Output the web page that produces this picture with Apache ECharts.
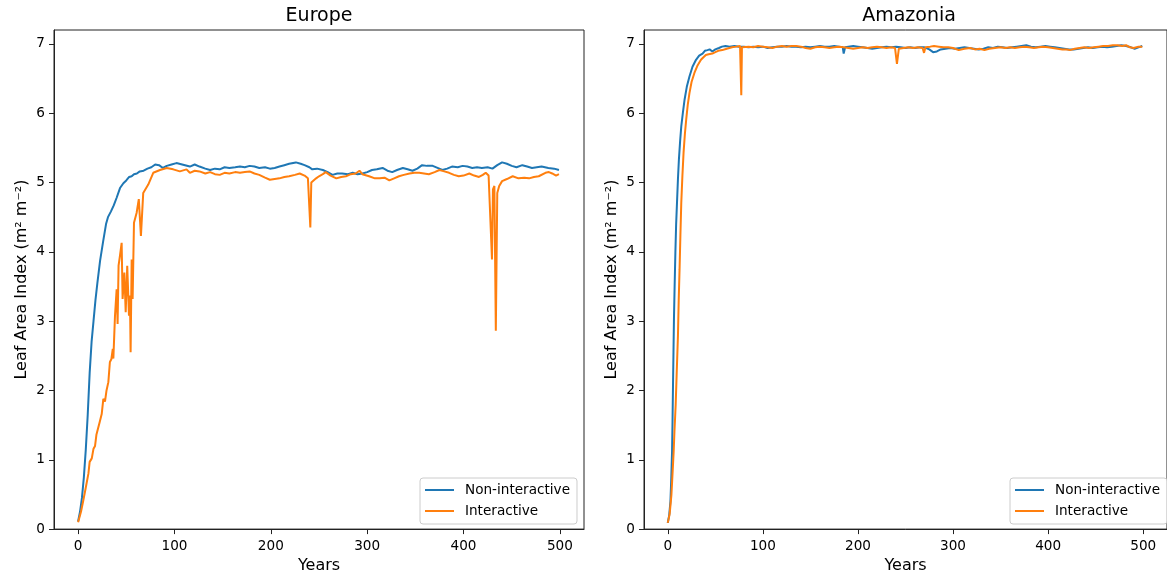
<!DOCTYPE html>
<html>
<head>
<meta charset="utf-8">
<script src="https://cdn.jsdelivr.net/npm/echarts@6/dist/echarts.min.js"></script>
<style>
html,body{margin:0;padding:0;background:#fff;}
#chart{width:1167px;height:579px;}
</style>
</head>
<body>
<div id="chart"></div>
<script>
// ---------- Data ----------
const panelTitles = ['Europe', 'Amazonia'];
const seriesNames = ['Non-interactive', 'Interactive'];
const xTicks = [0, 100, 200, 300, 400, 500];
const yTicks = [0, 1, 2, 3, 4, 5, 6, 7];

// Europe, non-interactive
const euNonYears = [0,2,4,6,8,10,12,14,16,18,20,22.8,26,29,31,34,37,40,43.5,47,50,53,55.6,58,61,64,68,72,76,80,84,88,92,97,102,108,116,121,126,132,137,142,147,152,157,163,168,173,178,183,188,194,199,204,209,214,219,226,231,235,240,243,248,254,259,264,269,274,280,285,290,295,300,305,310,316,321,326,331,337,342,347,352,357,362,368,373,378,383,388,394,399,404,409,414,419,425,430,435,440,445,450,455,461,466,471,476,481,488,494,499];
const euNonLAI = [0.11,0.25,0.45,0.75,1.15,1.65,2.25,2.7,3.0,3.3,3.55,3.87,4.15,4.4,4.5,4.58,4.67,4.78,4.92,4.99,5.03,5.08,5.09,5.12,5.13,5.16,5.17,5.2,5.22,5.26,5.25,5.21,5.24,5.26,5.28,5.26,5.23,5.26,5.23,5.2,5.18,5.2,5.19,5.22,5.21,5.22,5.23,5.22,5.24,5.23,5.21,5.22,5.2,5.21,5.23,5.25,5.27,5.29,5.27,5.25,5.22,5.19,5.2,5.18,5.15,5.11,5.13,5.13,5.12,5.14,5.12,5.13,5.15,5.18,5.19,5.21,5.17,5.15,5.18,5.21,5.19,5.17,5.2,5.25,5.24,5.24,5.21,5.18,5.2,5.23,5.22,5.24,5.23,5.21,5.22,5.21,5.22,5.2,5.25,5.29,5.27,5.24,5.22,5.25,5.23,5.21,5.22,5.23,5.21,5.2,5.18];

// Europe, interactive
const euIntYears = [0,3,5.5,8,10.7,12,14.2,16,17.6,19,21,22.5,24.5,26.2,27.9,29.5,31.4,33,34.5,36,36.6,38.3,40,41,42,43.5,45.2,46.2,48,49.4,51,52.8,53.8,54.5,55.6,56.6,58,60.7,63,65.2,67.6,72.8,78,85,92,98.7,105.6,112.5,116,121,126,132,137,142,147,152,157,163,168,173,178,183,188,194,199,204,209,214,219,225,230,235,238.5,240,241,242,243.6,247,250,254,257,262,268,273,278,283,288,292,295,302,308,313,318,323,328,333,338,344,349,354,359,364,370,375,380,385,390,395,400,406,411,416,420,423,426,428,429.5,430.5,432,433.5,435,437,440,445,451,457,463,468,473,478,485,488.6,492,496,499];
const euIntLAI = [0.1,0.25,0.42,0.6,0.8,0.97,1.02,1.16,1.2,1.36,1.38,1.55,1.66,1.88,1.84,2.0,2.12,2.41,2.45,2.6,2.46,3.08,3.46,2.96,3.8,3.95,4.13,3.32,3.7,3.13,3.8,3.08,3.37,2.55,3.89,3.32,4.42,4.56,4.76,4.23,4.85,4.97,5.14,5.18,5.21,5.19,5.16,5.19,5.14,5.17,5.16,5.13,5.15,5.12,5.11,5.14,5.13,5.15,5.14,5.15,5.16,5.13,5.11,5.07,5.04,5.05,5.06,5.08,5.09,5.11,5.13,5.1,5.06,5.05,4.35,5.0,5.02,5.06,5.09,5.12,5.15,5.1,5.06,5.08,5.09,5.12,5.13,5.17,5.12,5.09,5.06,5.06,5.07,5.03,5.06,5.09,5.11,5.13,5.14,5.14,5.13,5.12,5.15,5.18,5.16,5.14,5.11,5.09,5.1,5.13,5.1,5.08,5.11,5.14,5.1,5.08,3.89,4.9,4.95,2.86,4.85,4.95,5.02,5.05,5.09,5.06,5.07,5.06,5.08,5.09,5.14,5.15,5.13,5.1,5.12];

// Amazonia, non-interactive
const amNonYears = [0,1.5,2.8,3.6,4.5,5,5.5,6,6.5,7.2,8,8.8,9.7,10.7,11.7,13,14.2,16,17.6,20,22.8,26,29.7,33,36.6,39,41.7,44,46.9,50,53.8,57,60.7,65,70,75,80,85,90,95,100,105,110,115,120,125,130,135,140,145,150,155,160,165,170,175,180,184,185,186.5,190,195,200,205,210,215,220,225,230,235,240,245,250,255,260,265,270,275,279,283,287,292,297,302,307,312,317,322,327,332,337,342,347,352,357,362,367,372,377,382,387,392,397,402,407,412,417,422,427,432,437,442,447,452,457,462,467,472,477,482,487,491,495,499];
const amNonLAI = [0.09,0.2,0.4,0.7,1.12,1.55,2.07,2.55,3.03,3.5,3.99,4.4,4.71,5.05,5.33,5.6,5.81,6.02,6.19,6.38,6.53,6.67,6.77,6.83,6.86,6.9,6.91,6.92,6.89,6.92,6.94,6.96,6.97,6.96,6.97,6.96,6.96,6.95,6.96,6.95,6.96,6.94,6.95,6.96,6.96,6.97,6.96,6.96,6.95,6.96,6.95,6.96,6.97,6.96,6.96,6.97,6.96,6.95,6.86,6.95,6.96,6.97,6.96,6.95,6.94,6.93,6.94,6.95,6.96,6.95,6.96,6.95,6.94,6.95,6.94,6.95,6.95,6.92,6.88,6.89,6.92,6.93,6.94,6.93,6.94,6.95,6.94,6.93,6.92,6.93,6.95,6.94,6.96,6.95,6.94,6.95,6.96,6.97,6.98,6.96,6.95,6.96,6.97,6.96,6.95,6.94,6.93,6.92,6.92,6.93,6.94,6.95,6.94,6.95,6.96,6.95,6.96,6.97,6.98,6.97,6.95,6.93,6.95,6.97];

// Amazonia, interactive
const amIntYears = [0,2,3.8,5,6.2,7,8.3,8.7,9.5,10.7,11.5,12.4,13.3,14.2,15.4,16.6,18,19.4,21,22.8,25,28,31,34.9,37,40,43,46.9,50,53,57.3,62,67.6,72,76,77.3,78,80,85,90,95,100,105,110,115,120,125,130,135,140,145,150,155,160,165,170,175,180,185,190,195,200,205,210,215,220,225,230,235,239,241,243,248,253,258,263,268,269.5,271,276,280,285,290,295,300,306,312,318,323,328,333,338,344,350,355,360,365,370,375,380,385,390,395,400,405,410,415,420,423,428,433,438,443,448,453,458,463,468,473,478,482,486,490,495,499];
const amIntLAI = [0.09,0.22,0.49,0.8,1.12,1.4,1.79,1.8,2.3,2.79,3.3,3.75,4.25,4.71,5.1,5.43,5.7,5.91,6.12,6.29,6.45,6.58,6.68,6.77,6.8,6.84,6.85,6.86,6.88,6.9,6.91,6.93,6.95,6.96,6.97,6.26,6.95,6.97,6.96,6.95,6.97,6.96,6.95,6.94,6.96,6.97,6.96,6.97,6.97,6.96,6.94,6.93,6.95,6.96,6.95,6.94,6.95,6.96,6.95,6.94,6.93,6.94,6.95,6.94,6.95,6.96,6.95,6.94,6.95,6.94,6.71,6.93,6.94,6.95,6.94,6.95,6.94,6.87,6.95,6.96,6.97,6.96,6.95,6.95,6.94,6.91,6.93,6.94,6.92,6.93,6.91,6.93,6.94,6.95,6.94,6.95,6.94,6.95,6.96,6.95,6.94,6.95,6.96,6.95,6.94,6.93,6.92,6.92,6.91,6.93,6.94,6.95,6.94,6.95,6.96,6.97,6.97,6.98,6.98,6.97,6.98,6.95,6.94,6.96,6.96];

// ---------- Chart ----------
const FONT = 'DejaVu Sans';
const BLUE = '#1f77b4', ORANGE = '#ff7f0e';
const pairs = (xs, ys) => xs.map((x, i) => [x, ys[i]]);

const grids = [
  {left: 54, top: 30, width: 530, height: 501},
  {left: 644, top: 30, width: 530, height: 501}
];

function xAxisFor(i) {
  return {
    gridIndex: i, type: 'value', min: -25, max: 525, position: 'bottom',
    name: 'Years', nameLocation: 'middle', nameGap: 27,
    nameTextStyle: {fontFamily: FONT, fontSize: 16, color: '#000'},
    axisLine: {show: true, onZero: false, lineStyle: {color: '#222', width: 1}},
    axisTick: {show: true, length: 5, customValues: xTicks, lineStyle: {color: '#222', width: 1}},
    axisLabel: {customValues: xTicks, margin: 10, fontFamily: FONT, fontSize: 13.6, color: '#000'},
    splitLine: {show: false}
  };
}
function yAxisFor(i) {
  return {
    gridIndex: i, type: 'value', min: 0, max: 7.2, position: 'left',
    name: 'Leaf Area Index (m² m⁻²)', nameLocation: 'middle', nameGap: 24,
    nameTextStyle: {fontFamily: FONT, fontSize: 16, color: '#000'},
    axisLine: {show: true, onZero: false, lineStyle: {color: '#222', width: 1}},
    axisTick: {show: true, length: 5, customValues: yTicks, lineStyle: {color: '#222', width: 1}},
    axisLabel: {customValues: yTicks, margin: 9, fontFamily: FONT, fontSize: 13.6, color: '#000'},
    splitLine: {show: false}
  };
}
function lineSeries(name, data, color, gi) {
  return {
    name, type: 'line', data, xAxisIndex: gi, yAxisIndex: gi,
    symbol: 'none', showSymbol: false, smooth: false,
    lineStyle: {color, width: 2}, itemStyle: {color},
    z: name === 'Interactive' ? 3 : 2
  };
}
function legendFor(left) {
  return {
    orient: 'vertical', left, top: 478, padding: [5, 7, 6, 5], itemGap: 7,
    itemWidth: 29, itemHeight: 2, icon: 'rect',
    borderColor: '#cccccc', borderWidth: 1, borderRadius: 3,
    backgroundColor: 'rgba(255,255,255,0.8)',
    data: seriesNames,
    textStyle: {fontFamily: FONT, fontSize: 13.6, color: '#000', padding: [0, 0, 0, 6]}
  };
}

const chart = echarts.init(document.getElementById('chart'), null, {renderer: 'canvas'});
chart.setOption({
  animation: false,
  backgroundColor: '#fff',
  title: panelTitles.map((t, i) => ({
    text: t, left: grids[i].left + 265, top: 7, textAlign: 'center', padding: 0,
    textStyle: {fontFamily: FONT, fontSize: 19, fontWeight: 'normal', color: '#000'}
  })),
  grid: grids.map(g => Object.assign({show: true, borderColor: '#222', borderWidth: 1, backgroundColor: 'transparent'}, g)),
  xAxis: [xAxisFor(0), xAxisFor(1)],
  yAxis: [yAxisFor(0), yAxisFor(1)],
  legend: [legendFor(420), legendFor(1010)],
  series: [
    lineSeries(seriesNames[0], pairs(euNonYears, euNonLAI), BLUE, 0),
    lineSeries(seriesNames[1], pairs(euIntYears, euIntLAI), ORANGE, 0),
    lineSeries(seriesNames[0], pairs(amNonYears, amNonLAI), BLUE, 1),
    lineSeries(seriesNames[1], pairs(amIntYears, amIntLAI), ORANGE, 1)
  ]
});
</script>
</body>
</html>
